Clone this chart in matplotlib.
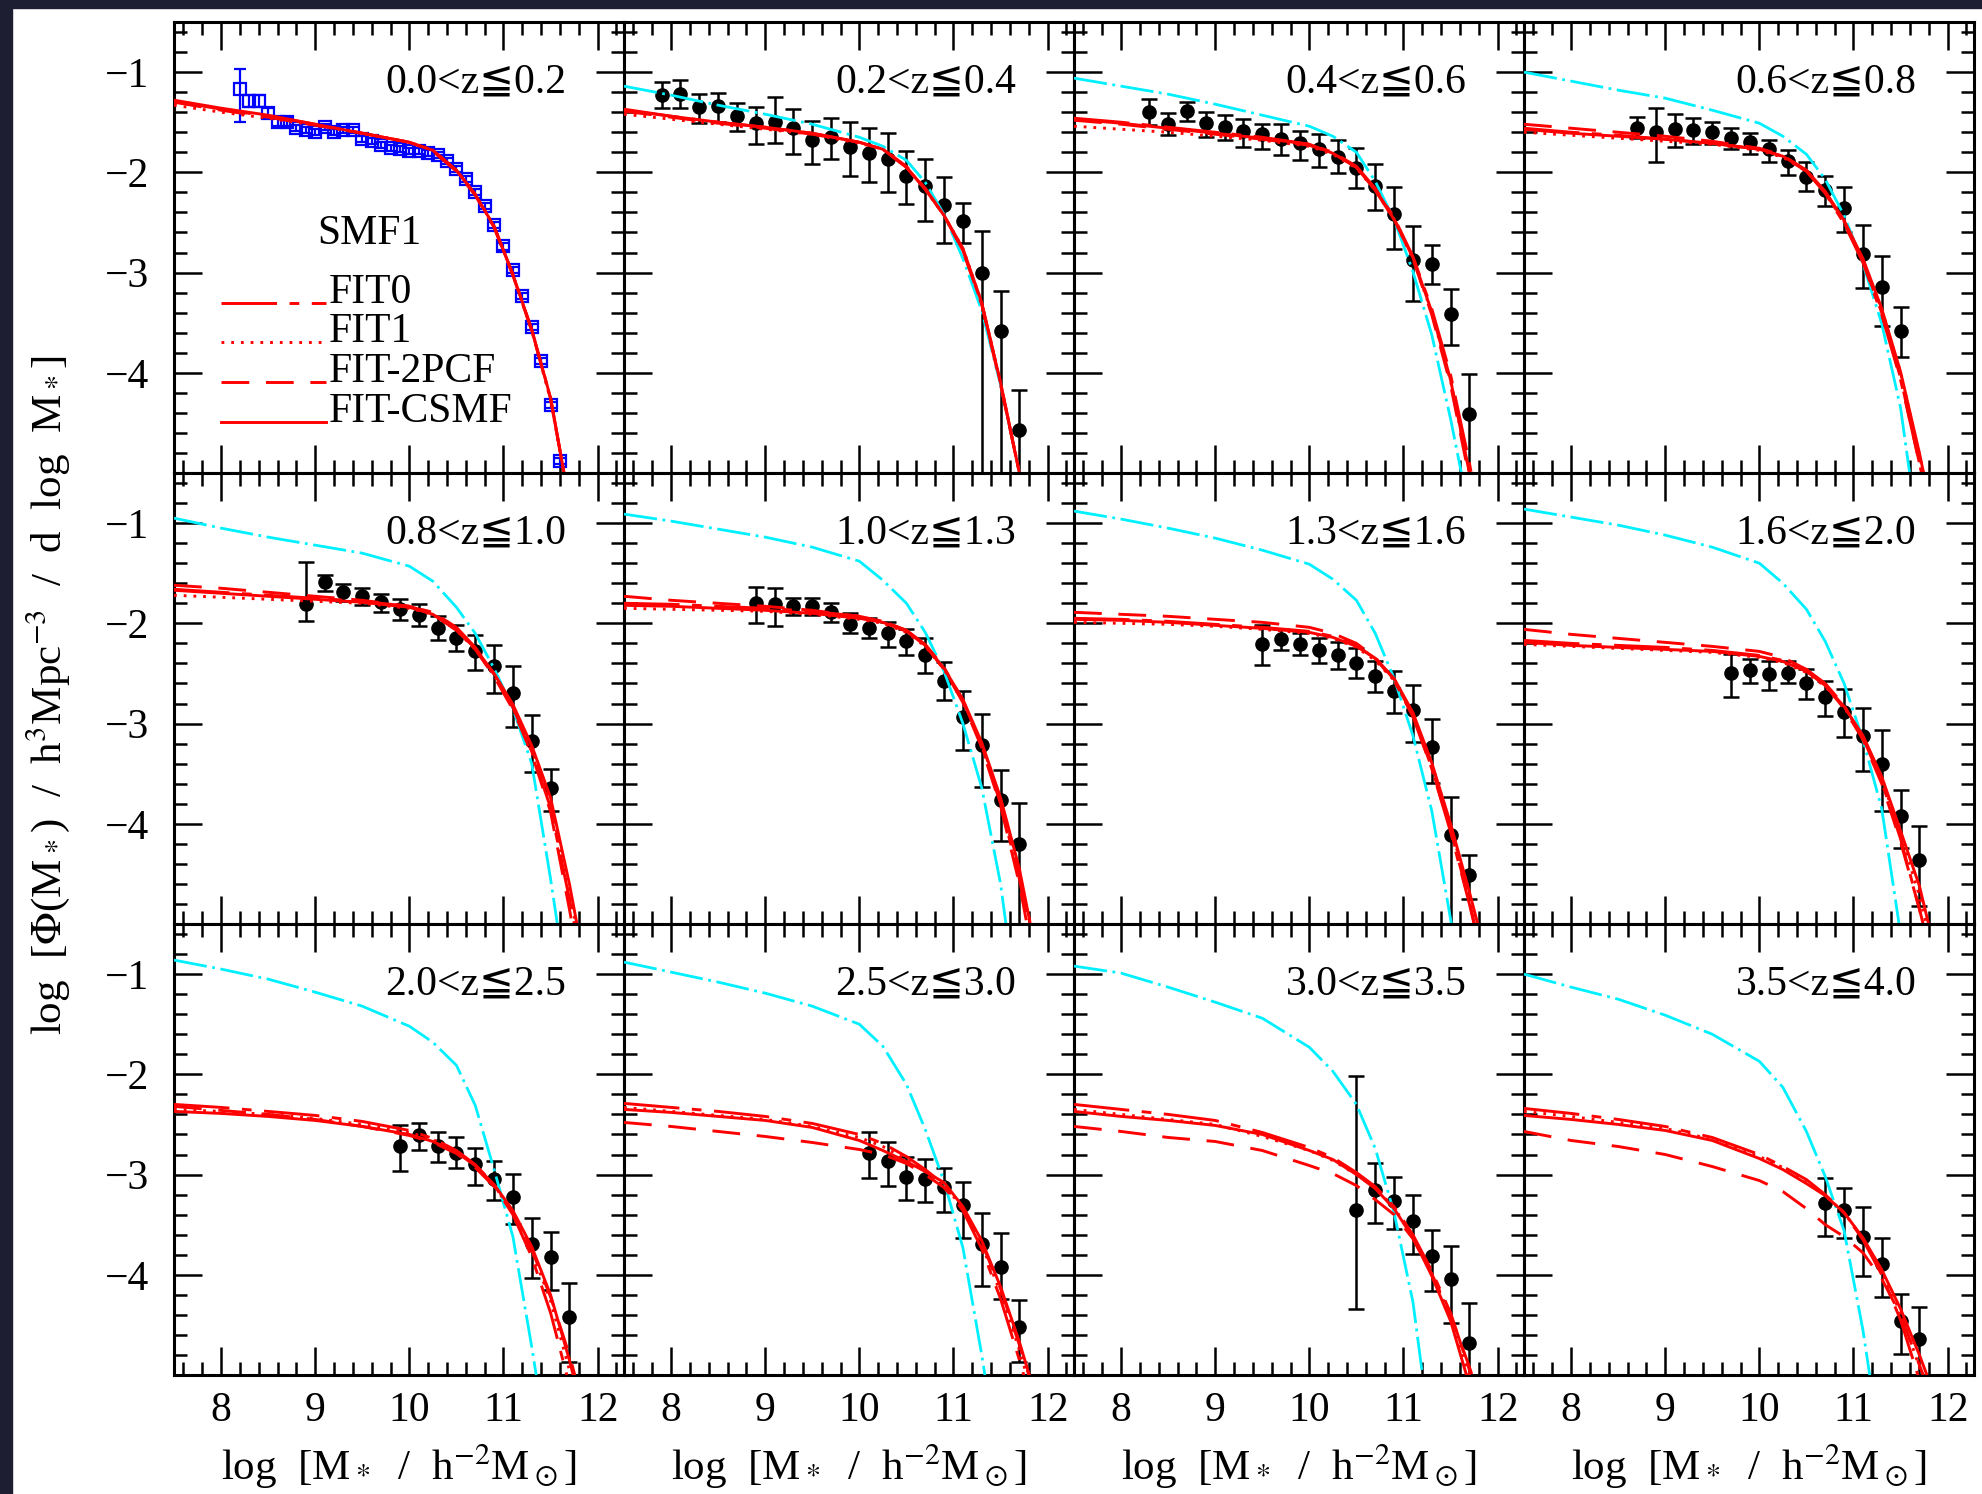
import numpy as np
import matplotlib.pyplot as plt
from matplotlib.ticker import MultipleLocator, FixedLocator
from matplotlib.patches import Rectangle

plt.rcParams['font.family'] = ['Liberation Serif', 'DejaVu Serif', 'DejaVu Sans']
plt.rcParams['mathtext.fontset'] = 'stix'
plt.rcParams['lines.scale_dashes'] = False

# ---- data ----
z_labels = ['0.0<z≦0.2', '0.2<z≦0.4', '0.4<z≦0.6', '0.6<z≦0.8',
            '0.8<z≦1.0', '1.0<z≦1.3', '1.3<z≦1.6', '1.6<z≦2.0',
            '2.0<z≦2.5', '2.5<z≦3.0', '3.0<z≦3.5', '3.5<z≦4.0']

# mass grid on which the model curves were read
m_grid = [7.5, 8.0, 8.5, 9.0, 9.5, 10.0, 10.25, 10.5, 10.7, 10.9, 11.1, 11.3, 11.5, 11.7, 11.9]

cyan_curves = [
    None,
    [-1.14, -1.23, -1.33, -1.42, -1.52, -1.65, -1.74, -1.88, -2.10, -2.42, -2.86, -3.38, -4.12, -5.0, -6.0],
    [-1.06, -1.14, -1.22, -1.32, -1.43, -1.54, -1.64, -1.80, -2.09, -2.47, -2.99, -3.62, -4.46, -5.4, -6.4],
    [-1.00, -1.09, -1.18, -1.26, -1.38, -1.51, -1.64, -1.82, -2.07, -2.43, -2.91, -3.51, -4.35, -5.7, -6.8],
    [-0.95, -1.05, -1.14, -1.22, -1.30, -1.43, -1.58, -1.84, -2.10, -2.45, -2.85, -3.40, -4.55, -5.8, -7.0],
    [-0.91, -0.98, -1.06, -1.14, -1.24, -1.38, -1.57, -1.80, -2.09, -2.48, -3.00, -3.64, -4.60, -6.0, -7.0],
    [-0.88, -0.96, -1.05, -1.15, -1.27, -1.41, -1.56, -1.77, -2.10, -2.55, -3.12, -3.87, -4.95, -6.0, -7.0],
    [-0.86, -0.94, -1.02, -1.12, -1.24, -1.40, -1.60, -1.86, -2.18, -2.60, -3.16, -3.85, -5.10, -6.5, -7.5],
    [-0.86, -0.95, -1.05, -1.18, -1.32, -1.52, -1.68, -1.91, -2.31, -2.95, -3.62, -4.72, -5.90, -7.0, -8.0],
    [-0.88, -0.98, -1.08, -1.19, -1.32, -1.50, -1.72, -2.10, -2.55, -3.07, -3.73, -4.80, -6.00, -7.0, -8.0],
    [-0.92, -0.99, -1.13, -1.28, -1.44, -1.73, -1.97, -2.30, -2.74, -3.38, -4.27, -5.70, -7.00, -8.0, -9.0],
    [-1.00, -1.13, -1.25, -1.41, -1.60, -1.87, -2.13, -2.57, -3.02, -3.56, -4.55, -5.80, -7.00, -8.0, -9.0],
]

fit0_curves = [
    [-1.29, -1.37, -1.44, -1.52, -1.61, -1.70, -1.78, -1.98, -2.22, -2.54, -3.02, -3.57, -4.25, -5.3, -6.4],
    [-1.37, -1.44, -1.50, -1.55, -1.61, -1.70, -1.77, -1.95, -2.17, -2.43, -2.78, -3.31, -4.10, -5.0, -6.0],
    [-1.46, -1.50, -1.55, -1.60, -1.65, -1.72, -1.80, -1.94, -2.16, -2.45, -2.84, -3.36, -4.02, -4.9, -5.9],
    [-1.56, -1.60, -1.63, -1.67, -1.71, -1.77, -1.84, -1.99, -2.21, -2.51, -2.90, -3.42, -4.07, -4.9, -5.8],
    [-1.66, -1.69, -1.72, -1.75, -1.78, -1.83, -1.89, -2.04, -2.24, -2.51, -2.84, -3.28, -3.84, -4.75, -5.7],
    [-1.80, -1.81, -1.83, -1.85, -1.88, -1.93, -1.98, -2.07, -2.21, -2.44, -2.77, -3.22, -3.80, -4.55, -5.5],
    [-1.95, -1.96, -1.98, -2.01, -2.04, -2.08, -2.13, -2.22, -2.35, -2.57, -2.93, -3.45, -4.08, -4.8, -5.6],
    [-2.17, -2.20, -2.22, -2.24, -2.27, -2.32, -2.37, -2.46, -2.60, -2.82, -3.14, -3.58, -4.15, -4.85, -5.6],
    [-2.30, -2.33, -2.37, -2.41, -2.47, -2.56, -2.64, -2.76, -2.90, -3.10, -3.40, -3.82, -4.38, -5.1, -5.9],
    [-2.29, -2.33, -2.37, -2.42, -2.49, -2.60, -2.69, -2.82, -2.95, -3.10, -3.36, -3.74, -4.24, -4.85, -5.5],
    [-2.30, -2.35, -2.40, -2.46, -2.58, -2.73, -2.83, -2.98, -3.12, -3.32, -3.60, -3.96, -4.38, -4.95, -5.6],
    [-2.34, -2.39, -2.45, -2.52, -2.63, -2.80, -2.92, -3.05, -3.20, -3.38, -3.65, -4.00, -4.45, -5.05, -5.7],
]

fit1_curves = [
    [-1.33, -1.40, -1.46, -1.53, -1.61, -1.70, -1.78, -1.98, -2.22, -2.54, -3.02, -3.58, -4.27, -5.3, -6.4],
    [-1.42, -1.47, -1.52, -1.57, -1.62, -1.71, -1.77, -1.95, -2.17, -2.43, -2.76, -3.30, -4.10, -5.0, -6.0],
    [-1.54, -1.57, -1.60, -1.64, -1.68, -1.74, -1.82, -1.96, -2.18, -2.47, -2.86, -3.40, -4.08, -5.0, -6.0],
    [-1.60, -1.63, -1.66, -1.69, -1.72, -1.78, -1.85, -1.99, -2.20, -2.49, -2.87, -3.37, -4.00, -4.82, -5.7],
    [-1.72, -1.74, -1.76, -1.78, -1.80, -1.85, -1.91, -2.07, -2.26, -2.52, -2.84, -3.26, -3.80, -4.68, -5.6],
    [-1.85, -1.86, -1.87, -1.88, -1.91, -1.96, -2.00, -2.09, -2.23, -2.46, -2.77, -3.20, -3.76, -4.48, -5.4],
    [-1.99, -2.00, -2.01, -2.03, -2.06, -2.10, -2.15, -2.24, -2.37, -2.57, -2.91, -3.40, -4.02, -4.72, -5.5],
    [-2.21, -2.23, -2.25, -2.27, -2.29, -2.34, -2.39, -2.49, -2.63, -2.84, -3.13, -3.55, -4.10, -4.72, -5.5],
    [-2.35, -2.37, -2.40, -2.44, -2.50, -2.58, -2.65, -2.77, -2.91, -3.11, -3.38, -3.76, -4.26, -4.95, -5.7],
    [-2.33, -2.37, -2.41, -2.45, -2.52, -2.63, -2.72, -2.85, -2.97, -3.10, -3.34, -3.70, -4.18, -4.75, -5.4],
    [-2.35, -2.40, -2.45, -2.50, -2.62, -2.76, -2.86, -3.00, -3.13, -3.33, -3.62, -3.99, -4.42, -5.0, -5.7],
    [-2.37, -2.42, -2.48, -2.54, -2.65, -2.82, -2.93, -3.06, -3.21, -3.38, -3.64, -3.97, -4.38, -4.92, -5.5],
]

pcf_curves = [
    [-1.30, -1.38, -1.45, -1.53, -1.61, -1.70, -1.79, -1.99, -2.23, -2.55, -3.03, -3.58, -4.26, -5.3, -6.4],
    [-1.39, -1.45, -1.51, -1.56, -1.62, -1.70, -1.77, -1.94, -2.16, -2.43, -2.78, -3.32, -4.12, -5.0, -6.0],
    [-1.48, -1.52, -1.57, -1.62, -1.67, -1.73, -1.81, -1.95, -2.17, -2.46, -2.86, -3.42, -4.12, -5.05, -6.1],
    [-1.52, -1.56, -1.60, -1.64, -1.69, -1.76, -1.83, -1.98, -2.20, -2.50, -2.89, -3.40, -4.05, -4.9, -5.8],
    [-1.62, -1.65, -1.69, -1.73, -1.77, -1.83, -1.90, -2.06, -2.26, -2.53, -2.86, -3.30, -3.88, -4.85, -5.9],
    [-1.73, -1.77, -1.80, -1.83, -1.87, -1.93, -1.98, -2.07, -2.22, -2.46, -2.79, -3.24, -3.82, -4.6, -5.6],
    [-1.89, -1.91, -1.93, -1.96, -1.99, -2.04, -2.10, -2.20, -2.34, -2.56, -2.92, -3.44, -4.06, -4.78, -5.6],
    [-2.06, -2.11, -2.15, -2.19, -2.23, -2.28, -2.34, -2.46, -2.62, -2.85, -3.16, -3.60, -4.18, -4.85, -5.6],
    [-2.32, -2.36, -2.40, -2.45, -2.52, -2.61, -2.68, -2.79, -2.93, -3.12, -3.39, -3.75, -4.22, -4.80, -5.5],
    [-2.48, -2.52, -2.57, -2.62, -2.68, -2.75, -2.80, -2.89, -3.00, -3.13, -3.35, -3.68, -4.14, -4.70, -5.3],
    [-2.52, -2.57, -2.63, -2.67, -2.76, -2.91, -2.99, -3.11, -3.25, -3.40, -3.64, -3.99, -4.40, -4.92, -5.5],
    [-2.57, -2.66, -2.72, -2.80, -2.92, -3.06, -3.17, -3.34, -3.50, -3.62, -3.78, -4.04, -4.40, -4.90, -5.4],
]

csmf_curves = [
    [-1.28, -1.36, -1.43, -1.52, -1.61, -1.70, -1.78, -1.98, -2.22, -2.54, -3.02, -3.57, -4.25, -5.3, -6.4],
    [-1.38, -1.44, -1.50, -1.55, -1.61, -1.70, -1.77, -1.95, -2.17, -2.43, -2.76, -3.30, -4.10, -5.0, -6.0],
    [-1.47, -1.51, -1.56, -1.61, -1.66, -1.72, -1.81, -1.95, -2.18, -2.47, -2.85, -3.39, -4.07, -5.0, -6.0],
    [-1.57, -1.61, -1.64, -1.67, -1.71, -1.77, -1.84, -1.98, -2.19, -2.48, -2.86, -3.36, -3.99, -4.80, -5.7],
    [-1.67, -1.70, -1.73, -1.76, -1.79, -1.84, -1.91, -2.07, -2.25, -2.50, -2.81, -3.22, -3.74, -4.60, -5.6],
    [-1.82, -1.83, -1.85, -1.87, -1.90, -1.95, -1.99, -2.08, -2.22, -2.45, -2.76, -3.19, -3.74, -4.45, -5.4],
    [-1.96, -1.97, -1.99, -2.02, -2.05, -2.09, -2.14, -2.23, -2.35, -2.55, -2.89, -3.39, -4.00, -4.68, -5.4],
    [-2.19, -2.22, -2.24, -2.26, -2.28, -2.33, -2.38, -2.48, -2.62, -2.83, -3.12, -3.53, -4.07, -4.62, -5.4],
    [-2.37, -2.39, -2.42, -2.46, -2.52, -2.60, -2.67, -2.78, -2.91, -3.10, -3.36, -3.72, -4.20, -4.85, -5.6],
    [-2.35, -2.38, -2.42, -2.46, -2.53, -2.66, -2.76, -2.87, -2.97, -3.08, -3.32, -3.66, -4.12, -4.67, -5.3],
    [-2.37, -2.42, -2.46, -2.51, -2.60, -2.76, -2.85, -3.00, -3.14, -3.34, -3.63, -4.01, -4.46, -5.1, -5.8],
    [-2.41, -2.45, -2.50, -2.56, -2.66, -2.84, -2.95, -3.09, -3.21, -3.38, -3.63, -3.95, -4.34, -4.80, -5.3],
]

# SMF1 data (blue squares, first panel)
smf1_x = [8.2, 8.3, 8.4, 8.5, 8.6, 8.7, 8.8, 8.9, 9.0, 9.1, 9.2, 9.3, 9.4, 9.5, 9.6, 9.7, 9.8, 9.9,
          10.0, 10.1, 10.2, 10.3, 10.4, 10.5, 10.6, 10.7, 10.8, 10.9, 11.0, 11.1, 11.2, 11.3, 11.4, 11.5, 11.6]
smf1_y = [-1.17, -1.29, -1.29, -1.41, -1.50, -1.50, -1.56, -1.58, -1.60, -1.55, -1.60, -1.58, -1.58,
          -1.67, -1.69, -1.73, -1.76, -1.77, -1.79, -1.79, -1.81, -1.83, -1.89, -1.97, -2.07, -2.20,
          -2.34, -2.53, -2.74, -2.97, -3.23, -3.54, -3.88, -4.32, -4.88]
smf1_err_up = [0.20, 0.06, 0.06, 0.05, 0.04, 0.04, 0.03, 0.03, 0.03, 0.03, 0.03, 0.03, 0.03, 0.03,
               0.03, 0.03, 0.03, 0.03, 0.03, 0.03, 0.03, 0.03, 0.03, 0.03, 0.03, 0.03, 0.03, 0.03,
               0.03, 0.03, 0.03, 0.03, 0.03, 0.03, 0.03]
smf1_err_dn = [0.33, 0.06, 0.06, 0.05, 0.04, 0.04, 0.03, 0.03, 0.03, 0.03, 0.03, 0.03, 0.03, 0.03,
               0.03, 0.03, 0.03, 0.03, 0.03, 0.03, 0.03, 0.03, 0.03, 0.03, 0.03, 0.03, 0.03, 0.03,
               0.03, 0.03, 0.03, 0.03, 0.03, 0.03, 0.03]

# binned data (black points), panels 2-12
pts_x = [
    None,
    [7.9, 8.1, 8.3, 8.5, 8.7, 8.9, 9.1, 9.3, 9.5, 9.7, 9.9, 10.1, 10.3, 10.5, 10.7, 10.9, 11.1, 11.3, 11.5, 11.7],
    [8.3, 8.5, 8.7, 8.9, 9.1, 9.3, 9.5, 9.7, 9.9, 10.1, 10.3, 10.5, 10.7, 10.9, 11.1, 11.3, 11.5, 11.7],
    [8.7, 8.9, 9.1, 9.3, 9.5, 9.7, 9.9, 10.1, 10.3, 10.5, 10.7, 10.9, 11.1, 11.3, 11.5],
    [8.9, 9.1, 9.3, 9.5, 9.7, 9.9, 10.1, 10.3, 10.5, 10.7, 10.9, 11.1, 11.3, 11.5],
    [8.9, 9.1, 9.3, 9.5, 9.7, 9.9, 10.1, 10.3, 10.5, 10.7, 10.9, 11.1, 11.3, 11.5, 11.7],
    [9.5, 9.7, 9.9, 10.1, 10.3, 10.5, 10.7, 10.9, 11.1, 11.3, 11.5, 11.7],
    [9.7, 9.9, 10.1, 10.3, 10.5, 10.7, 10.9, 11.1, 11.3, 11.5, 11.7],
    [9.9, 10.1, 10.3, 10.5, 10.7, 10.9, 11.1, 11.3, 11.5, 11.7],
    [10.1, 10.3, 10.5, 10.7, 10.9, 11.1, 11.3, 11.5, 11.7],
    [10.5, 10.7, 10.9, 11.1, 11.3, 11.5, 11.7],
    [10.7, 10.9, 11.1, 11.3, 11.5, 11.7],
]
pts_y = [
    None,
    [-1.23, -1.22, -1.35, -1.34, -1.44, -1.51, -1.50, -1.56, -1.68, -1.65, -1.75, -1.81, -1.87, -2.04, -2.14, -2.33, -2.49, -3.00, -3.58, -4.57],
    [-1.40, -1.52, -1.39, -1.51, -1.55, -1.59, -1.62, -1.67, -1.71, -1.77, -1.85, -1.96, -2.14, -2.42, -2.87, -2.91, -3.41, -4.41],
    [-1.56, -1.60, -1.57, -1.58, -1.60, -1.66, -1.70, -1.77, -1.89, -2.05, -2.18, -2.36, -2.81, -3.14, -3.58],
    [-1.81, -1.59, -1.69, -1.73, -1.79, -1.86, -1.92, -2.05, -2.15, -2.28, -2.43, -2.70, -3.17, -3.64],
    [-1.80, -1.81, -1.83, -1.83, -1.89, -2.01, -2.05, -2.10, -2.18, -2.32, -2.58, -2.93, -3.21, -3.76, -4.20],
    [-2.21, -2.16, -2.21, -2.27, -2.32, -2.40, -2.53, -2.68, -2.86, -3.23, -4.11, -4.51],
    [-2.50, -2.47, -2.51, -2.50, -2.60, -2.74, -2.88, -3.12, -3.40, -3.92, -4.36],
    [-2.72, -2.61, -2.72, -2.78, -2.89, -3.04, -3.22, -3.69, -3.82, -4.42],
    [-2.78, -2.86, -3.02, -3.04, -3.12, -3.30, -3.69, -3.92, -4.52],
    [-3.35, -3.15, -3.26, -3.46, -3.81, -4.04, -4.68],
    [-3.28, -3.35, -3.62, -3.89, -4.46, -4.64],
]
pts_hi = [
    None,
    [-1.10, -1.08, -1.22, -1.21, -1.31, -1.35, -1.25, -1.37, -1.49, -1.46, -1.50, -1.56, -1.61, -1.79, -1.87, -2.05, -2.31, -2.59, -3.18, -4.17],
    [-1.27, -1.41, -1.30, -1.40, -1.43, -1.47, -1.52, -1.52, -1.59, -1.62, -1.68, -1.76, -1.92, -2.15, -2.54, -2.73, -3.16, -4.01],
    [-1.45, -1.36, -1.42, -1.46, -1.50, -1.56, -1.61, -1.68, -1.78, -1.90, -2.04, -2.15, -2.53, -2.83, -3.34],
    [-1.39, -1.52, -1.61, -1.65, -1.71, -1.76, -1.81, -1.93, -2.02, -2.12, -2.22, -2.43, -2.91, -3.45],
    [-1.64, -1.65, -1.75, -1.75, -1.80, -1.90, -1.95, -1.99, -2.06, -2.15, -2.39, -2.68, -2.90, -3.46, -3.79],
    [-2.02, -2.06, -2.10, -2.15, -2.19, -2.25, -2.38, -2.48, -2.62, -2.95, -3.73, -4.31],
    [-2.31, -2.36, -2.38, -2.38, -2.46, -2.58, -2.66, -2.84, -3.06, -3.66, -4.02],
    [-2.51, -2.49, -2.58, -2.63, -2.74, -2.86, -2.99, -3.43, -3.57, -4.08],
    [-2.58, -2.68, -2.82, -2.84, -2.93, -3.07, -3.38, -3.58, -4.25],
    [-2.02, -2.88, -3.02, -3.20, -3.55, -3.71, -4.28],
    [-3.03, -3.13, -3.32, -3.63, -4.19, -4.32],
]
pts_lo = [
    None,
    [-1.36, -1.36, -1.51, -1.50, -1.59, -1.72, -1.71, -1.82, -1.92, -1.87, -2.04, -2.10, -2.20, -2.32, -2.49, -2.71, -2.71, -5.2, -5.2, -5.2],
    [-1.53, -1.63, -1.49, -1.65, -1.68, -1.75, -1.77, -1.83, -1.88, -1.95, -2.01, -2.16, -2.38, -2.76, -3.28, -3.11, -3.72, -5.2],
    [-1.66, -1.90, -1.75, -1.72, -1.72, -1.77, -1.82, -1.90, -2.03, -2.19, -2.34, -2.60, -3.15, -3.53, -3.84],
    [-1.98, -1.68, -1.78, -1.82, -1.89, -1.97, -2.03, -2.17, -2.28, -2.47, -2.70, -3.03, -3.48, -3.87],
    [-2.00, -2.03, -1.92, -1.92, -1.99, -2.10, -2.15, -2.24, -2.32, -2.50, -2.76, -3.26, -3.63, -4.17, -5.2],
    [-2.42, -2.27, -2.32, -2.40, -2.46, -2.55, -2.69, -2.89, -3.18, -3.59, -5.2, -4.75],
    [-2.74, -2.60, -2.67, -2.60, -2.75, -2.92, -3.13, -3.47, -3.87, -4.24, -4.82],
    [-2.96, -2.75, -2.87, -2.93, -3.10, -3.25, -3.49, -4.03, -4.15, -4.87],
    [-3.03, -3.11, -3.25, -3.27, -3.37, -3.63, -4.11, -4.24, -4.87],
    [-4.34, -3.48, -3.54, -3.79, -4.16, -4.48, -5.2],
    [-3.61, -3.63, -4.01, -4.22, -4.79, -5.2],
]

legend_labels = ['FIT0', 'FIT1', 'FIT-2PCF', 'FIT-CSMF']

# ---- styles ----
RED = '#ff0000'
CYAN = '#00f0ff'
styles = {
    'fit0': dict(color=RED, lw=2.1, ls=(0, (40, 9, 7, 9))),
    'fit1': dict(color=RED, lw=2.1, ls=(0, (2, 5))),
    'pcf': dict(color=RED, lw=2.1, ls=(0, (20, 12))),
    'csmf': dict(color=RED, lw=2.1, ls='-'),
}
cyan_style = dict(color=CYAN, lw=2.0, ls=(0, (24, 4, 2, 4)))

W, H = 1982, 1494
fig = plt.figure(figsize=(W / 100, H / 100), dpi=100)
fig.patch.set_facecolor('white')
# dark border strips of the original image
fig.add_artist(Rectangle((0, 0), 12 / W, 1, transform=fig.transFigure, color='#1d1e31', zorder=0))
fig.add_artist(Rectangle((0, 1 - 8 / H), 1, 8 / H, transform=fig.transFigure, color='#1d1e31', zorder=0))

col_left = [174, 624, 1074, 1524]
row_top = [22, 473, 924]
pw, ph = 450, 451
FS = 30

for i in range(12):
    r, c = divmod(i, 4)
    ax = fig.add_axes([col_left[c] / W, 1 - (row_top[r] + ph) / H, pw / W, ph / H])
    ax.set_xlim(7.5, 12.28)
    ax.set_ylim(-5.0, -0.5)

    if i == 0:
        yerr = [smf1_err_dn, smf1_err_up]
        ax.errorbar(smf1_x, smf1_y, yerr=yerr, fmt='s', mfc='none', mec='#0000ff', color='#0000ff',
                    ms=8, mew=1.6, elinewidth=1.6, capsize=4, capthick=1.6, zorder=2)
    else:
        y = np.array(pts_y[i])
        yerr = [y - np.array(pts_lo[i]), np.array(pts_hi[i]) - y]
        ax.errorbar(pts_x[i], y, yerr=yerr, fmt='o', color='black', ms=9.5,
                    elinewidth=1.8, capsize=6, capthick=1.8, zorder=2)
        ax.plot(m_grid, cyan_curves[i], zorder=3, **cyan_style)

    ax.plot(m_grid, fit0_curves[i], zorder=4, **styles['fit0'])
    ax.plot(m_grid, fit1_curves[i], zorder=4, **styles['fit1'])
    ax.plot(m_grid, pcf_curves[i], zorder=4, **styles['pcf'])
    ax.plot(m_grid, csmf_curves[i], zorder=5, **styles['csmf'])

    ax.text(0.872, 0.843, z_labels[i], transform=ax.transAxes, ha='right', va='baseline', fontsize=FS)

    ax.xaxis.set_major_locator(FixedLocator([8, 9, 10, 11, 12]))
    ax.xaxis.set_minor_locator(MultipleLocator(0.2))
    ax.yaxis.set_major_locator(FixedLocator([-4, -3, -2, -1]))
    ax.yaxis.set_minor_locator(MultipleLocator(0.2))
    ax.tick_params(which='both', direction='in', top=True, right=True, width=1.8, color='black')
    ax.tick_params(which='major', length=20)
    ax.tick_params(which='minor', length=9.5)
    ax.tick_params(axis='x', labelsize=FS, pad=12, labelbottom=(r == 2))
    ax.tick_params(axis='y', labelsize=FS, pad=18, labelleft=(c == 0))
    for sp in ax.spines.values():
        sp.set_linewidth(2.2)

    if i == 0:
        ax.text(0.434, 0.507, 'SMF1', transform=ax.transAxes, ha='center', va='baseline', fontsize=FS)
        keys = ['fit0', 'fit1', 'pcf', 'csmf']
        rows = [0.378, 0.291, 0.202, 0.113]
        for key, lab, yy in zip(keys, legend_labels, rows):
            ax.plot([0.105, 0.338], [yy, yy], transform=ax.transAxes, **styles[key])
            ax.text(0.345, yy, lab, transform=ax.transAxes, ha='left', va='baseline', fontsize=FS)

    if r == 2:
        fig.text((col_left[c] + pw / 2) / W, 1 - 1480 / H, r'log  [M$_*$  /  h$^{-2}$M$_\odot$]',
                 ha='center', va='baseline', fontsize=31)

fig.text(0.024, 0.535, r'log  [$\Phi$(M$_*$)  /  h$^3$Mpc$^{-3}$  /  d  log  M$_*$]',
         rotation=90, ha='center', va='center', fontsize=31)

fig.savefig('out.png', dpi=100, facecolor=fig.get_facecolor())
